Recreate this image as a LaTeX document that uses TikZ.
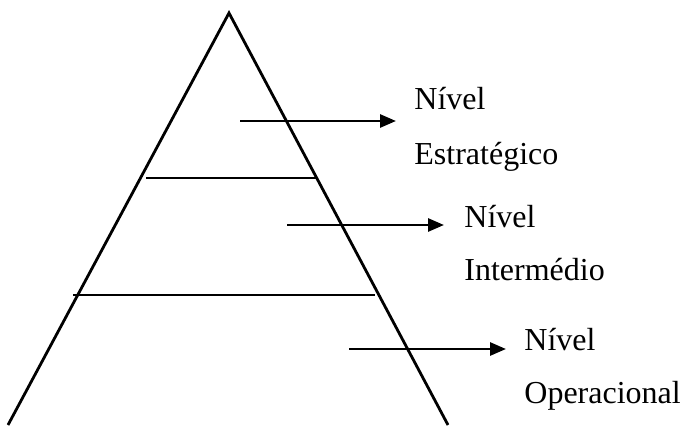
\documentclass[tikz,border=0pt]{standalone}
\usepackage{fontspec}
\setmainfont{Liberation Serif}
\usetikzlibrary{arrows.meta}
\tikzset{
  level/.style={anchor=base west,inner sep=0pt,font=\fontsize{32}{38}\selectfont},
  pointer/.style={-{Triangle[length=16pt,width=13pt]}}
}
\begin{document}
\begin{tikzpicture}[x=1pt,y=-1pt,line width=2.8pt]
\useasboundingbox (0,0) rectangle (684,425);
% pyramid
\coordinate (top) at (229,13);
\coordinate (bl) at (8,425);
\coordinate (br) at (448,425);
\draw (bl) -- (top) -- (br);
\draw (146,178) -- (316,178);
\draw (73,295) -- (375,295);
% labels
\node[level] (n1) at (413,110) {Nível};
\node[level] (e1) at (413,164) {Estratégico};
\node[level] (n2) at (463,227) {Nível};
\node[level] (e2) at (463,280) {Intermédio};
\node[level] (n3) at (523,350) {Nível};
\node[level] (e3) at (523,403) {Operacional};
% arrows
\coordinate (a1) at (240,121);
\coordinate (b1) at (396,121);
\coordinate (a2) at (287,225);
\coordinate (b2) at (444,225);
\coordinate (a3) at (349,349);
\coordinate (b3) at (506,349);
\draw[pointer] (a1) -- (b1);
\draw[pointer] (a2) -- (b2);
\draw[pointer] (a3) -- (b3);
\end{tikzpicture}
\end{document}
